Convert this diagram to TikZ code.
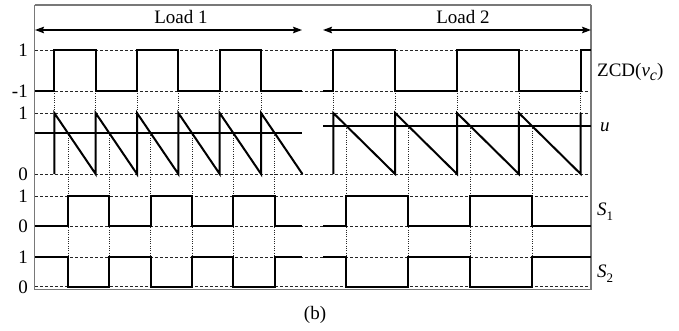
\documentclass[tikz,border=0pt]{standalone}
\usepackage{fontspec}
\setmainfont{Liberation Serif}
\usetikzlibrary{arrows.meta}
\definecolor{framegray}{RGB}{120,120,120}
\tikzset{
  sig/.style={line width=2pt, line join=miter},
  gridh/.style={line width=0.7pt, dash pattern=on 3pt off 2pt, black!85},
  gridv/.style={line width=0.7pt, dash pattern=on 1pt off 1.3pt, black!85},
  frame/.style={line width=1.1pt, framegray},
  span/.style={line width=1.6pt, {Stealth[length=9pt,width=6.5pt,inset=1.5pt]}-{Stealth[length=9pt,width=6.5pt,inset=1.5pt]}},
  lbl/.style={font=\fontsize{19}{21}\selectfont, inner sep=0pt},
  tick/.style={lbl, anchor=east},
  rlab/.style={lbl, anchor=west}
}
\begin{document}
\begin{tikzpicture}[x=1pt,y=-1pt]
\useasboundingbox (0,0) rectangle (679,331);
% grid lines
\foreach \yy in {50,91,113,174,196,226,257,286.5}
  \draw[gridh] (35,\yy) -- (591,\yy);
% dotted verticals at ZCD transitions
\foreach \xx in {54.3,95.65,137,178.35,219.7,261.05,333.3,395.15,457,518.85,580.7}
  \draw[gridv] (\xx,91) -- (\xx,113);
% dotted verticals at switching points
\foreach \xx in {67.86,109.21,150.56,191.91,233.26,274.61}
  \draw[gridv] (\xx,133) -- (\xx,286.5);
\foreach \xx in {346.47,408.32,470.17,532.02}
  \draw[gridv] (\xx,126) -- (\xx,286.5);
% frame
\draw[frame] (34.5,5) -- (591,5);
\draw[frame] (34.5,5) -- (34.5,289.5) -- (591,289.5) -- (591,5);
% span arrows
\coordinate (a1) at (35,30);
\coordinate (b1) at (302,30);
\coordinate (a2) at (323,30);
\coordinate (b2) at (591,30);
\draw[span] (a1) -- (b1);
\draw[span] (a2) -- (b2);
\node[lbl] (load1) at (181,17) {Load 1};
\node[lbl] (load2) at (463,17) {Load 2};
% ZCD
\draw[sig] (35,91) -- (54.3,91) -- (54.3,50) -- (95.65,50) -- (95.65,91) -- (137,91) -- (137,50) -- (178.35,50) -- (178.35,91) -- (219.7,91) -- (219.7,50) -- (261.05,50) -- (261.05,91) -- (302,91);
\draw[sig] (323,91) -- (333.3,91) -- (333.3,50) -- (395.15,50) -- (395.15,91) -- (457,91) -- (457,50) -- (518.85,50) -- (518.85,91) -- (580.7,91) -- (580.7,50) -- (591,50);
% sawtooth
\draw[sig] (54.3,174) -- (54.3,113) -- (95.65,174) -- (95.65,113) -- (137,174) -- (137,113) -- (178.35,174) -- (178.35,113) -- (219.7,174) -- (219.7,113) -- (261.05,174) -- (261.05,113) -- (302.4,174);
\draw[sig] (333.3,174) -- (333.3,113) -- (395.15,174) -- (395.15,113) -- (457,174) -- (457,113) -- (518.85,174) -- (518.85,113) -- (580.7,174) -- (580.7,113);
% u
\draw[sig] (35,133) -- (302,133);
\draw[sig] (323,126) -- (591,126);
% S1
\draw[sig] (35,226) -- (67.86,226) -- (67.86,196) -- (109.21,196) -- (109.21,226) -- (150.56,226) -- (150.56,196) -- (191.91,196) -- (191.91,226) -- (233.26,226) -- (233.26,196) -- (274.61,196) -- (274.61,226) -- (302,226);
\draw[sig] (323,226) -- (346.47,226) -- (346.47,196) -- (408.32,196) -- (408.32,226) -- (470.17,226) -- (470.17,196) -- (532.02,196) -- (532.02,226) -- (591,226);
% S2
\draw[sig] (35,257) -- (67.86,257) -- (67.86,286.5) -- (109.21,286.5) -- (109.21,257) -- (150.56,257) -- (150.56,286.5) -- (191.91,286.5) -- (191.91,257) -- (233.26,257) -- (233.26,286.5) -- (274.61,286.5) -- (274.61,257) -- (302,257);
\draw[sig] (323,257) -- (346.47,257) -- (346.47,286.5) -- (408.32,286.5) -- (408.32,257) -- (470.17,257) -- (470.17,286.5) -- (532.02,286.5) -- (532.02,257) -- (591,257);
% tick labels
\node[tick] (t1) at (28,50) {1};
\node[tick] (t2) at (28,91) {-1};
\node[tick] (t3) at (28,113) {1};
\node[tick] (t4) at (28,174) {0};
\node[tick] (t5) at (28,196) {1};
\node[tick] (t6) at (28,226) {0};
\node[tick] (t7) at (28,257) {1};
\node[tick] (t8) at (28,287) {0};
% right labels
\node[rlab] (zcd) at (597,72) {ZCD(\textit{v}\raisebox{-0.5ex}{\fontsize{16}{16}\selectfont\textit{c}})};
\node[rlab] (ulab) at (600,127) {\textit{u}};
\node[rlab] (s1) at (597,212) {\textit{S}\raisebox{-0.6ex}{\fontsize{13}{13}\selectfont 1}};
\node[rlab] (s2) at (597,274) {\textit{S}\raisebox{-0.6ex}{\fontsize{13}{13}\selectfont 2}};
\node[lbl] (cap) at (315,315) {(b)};
\end{tikzpicture}
\end{document}
